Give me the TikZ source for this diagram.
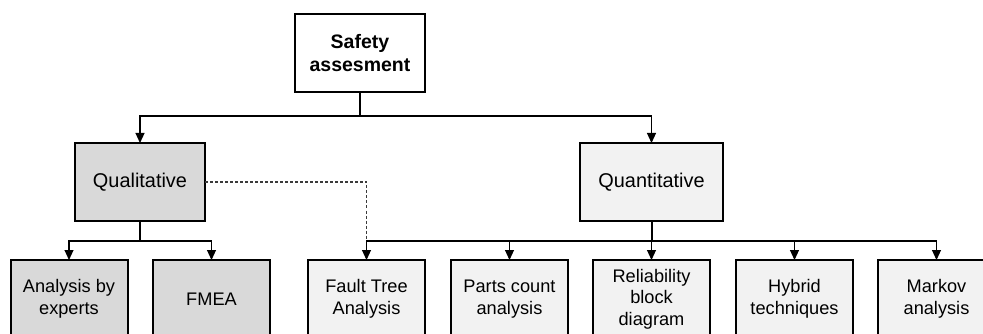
\documentclass[tikz,border=0pt]{standalone}
\usepackage{fontspec}
\setmainfont{Liberation Sans}
\usetikzlibrary{arrows.meta}
\definecolor{qualfill}{HTML}{D9D9D9}
\definecolor{quantfill}{HTML}{F2F2F2}
\definecolor{dashgray}{HTML}{3A3A3A}
\tikzset{
  box/.style={draw=black, line width=2pt, rectangle, inner sep=0pt, outer sep=0pt,
    align=center, font=\fontsize{18.2}{21.7}\selectfont},
  titlebox/.style={box, fill=white, minimum width=130pt, minimum height=78pt,
    font=\fontsize{19.5}{23}\selectfont\bfseries},
  groupqual/.style={box, fill=qualfill, minimum width=130pt, minimum height=78pt,
    font=\fontsize{19.9}{23}\selectfont},
  groupquant/.style={box, fill=quantfill, minimum width=143pt, minimum height=78pt,
    font=\fontsize{19.9}{23}\selectfont},
  leafqual/.style={box, fill=qualfill, minimum width=117pt, minimum height=78pt},
  leafquant/.style={box, fill=quantfill, minimum width=117pt, minimum height=78pt},
  conn/.style={draw=black, line width=1.1pt},
  arrowconn/.style={conn, -{Triangle[length=10pt,width=9pt]}},
  dashconn/.style={draw=dashgray, line width=1.1pt, dash pattern=on 3pt off 2pt},
}
\begin{document}
\begin{tikzpicture}[x=1pt, y=-1pt]
  \useasboundingbox (0,0) rectangle (983,334);
  \clip (0,0) rectangle (983,334);

  % root
  \node[titlebox] (top) at (360,53) {Safety\\assesment};

  % two main branches
  \node[groupqual]  (qual)  at (140,182)   {Qualitative};
  \node[groupquant] (quant) at (651.5,182) {Quantitative};

  % qualitative methods
  \node[leafqual] (expert) at (69,299)    {Analysis by\\experts};
  \node[leafqual] (fmea)   at (211.5,299) {FMEA};

  % quantitative methods
  \node[leafquant] (fta)    at (366.5,299) {Fault Tree\\Analysis};
  \node[leafquant] (parts)  at (509.5,299) {Parts count\\analysis};
  \node[leafquant] (rbd)    at (651.5,299) {Reliability\\block\\diagram};
  \node[leafquant] (hybrid) at (794.5,299) {Hybrid\\techniques};
  \node[leafquant] (markov) at (936.5,299) {Markov\\analysis};

  % junction points of the tree
  \coordinate (bartop)   at (360,116);
  \coordinate (barqual)  at (140,241);
  \coordinate (barquant) at (651.5,241);
  \coordinate (ftajoin)  at (fta.north |- barquant);

  % root to branches
  \draw[conn] (top.south) -- (bartop);
  \draw[arrowconn] (bartop) -| (qual.north);
  \draw[arrowconn] (bartop) -| (quant.north);

  % qualitative branch
  \draw[conn] (qual.south) -- (barqual);
  \draw[arrowconn] (barqual) -| (expert.north);
  \draw[arrowconn] (barqual) -| (fmea.north);

  % fault tree analysis also belongs to the qualitative side
  \draw[dashconn] (qual.east) -| (ftajoin);

  % quantitative branch
  \draw[conn, line width=2pt] (quant.south) -- (barquant);
  \draw[arrowconn] (barquant) -| (fta.north);
  \draw[arrowconn] (barquant) -| (parts.north);
  \draw[arrowconn] (barquant) -- (rbd.north);
  \draw[arrowconn] (barquant) -| (hybrid.north);
  \draw[arrowconn] (barquant) -| (markov.north);
\end{tikzpicture}
\end{document}
